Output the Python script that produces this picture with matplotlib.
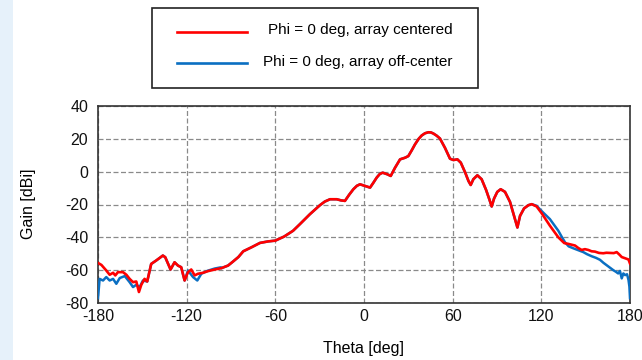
import matplotlib
matplotlib.use('Agg')
import matplotlib.pyplot as plt
from matplotlib.patches import Rectangle
from matplotlib.lines import Line2D

plt.rcParams['font.family'] = ['Liberation Sans', 'DejaVu Sans']
plt.rcParams['axes.unicode_minus'] = False

# red curve: array centered (theta in deg, gain in dBi)
red_theta = [-180, -177.7, -174.4, -172.1, -169.8, -168.3, -166.5, -163.1, -160.8, -158.6,
             -156.3, -154.1, -152.3, -150.7, -148.5, -146.7, -144, -140.6, -136.1, -134.5,
             -130.9, -128.2, -125.9, -123.7, -121.4, -119.1, -116.9, -114.6, -112.4, -109,
             -105.6, -101.1, -96.6, -92, -88.7, -85, -81.7, -76, -70.4, -65,
             -60, -54, -48, -43.3, -36.6, -33, -29.8, -26.5, -23, -18.5,
             -15.5, -12.9, -10, -7.2, -4.8, -2.7, 0.7, 4.1, 6.3, 8.6,
             10.6, 12.6, 15.8, 18.1, 21, 24.4, 27.8, 30, 32.3, 34.5,
             37, 39, 41.3, 43.6, 45.3, 47, 49.2, 51.4, 54.8, 58.2,
             60.5, 63.2, 65.5, 68.5, 70.7, 72.2, 74, 76.7, 79.6, 82.6,
             84.8, 86.4, 88, 90.2, 92.5, 95.4, 98.8, 101.5, 103.8, 105.6,
             108.3, 111.3, 113.5, 116.8, 120.2, 125.8, 131.5, 135.5, 138.3, 140.5,
             142.8, 145, 147.3, 149.5, 151.8, 154, 156.3, 159, 161.9, 164,
             166.5, 169, 171, 172.8, 174.4, 176, 177.7, 179, 180]
red_gain = [-55.6, -56.8, -60.2, -62.8, -61.6, -63.2, -61.2, -61.2, -62.8, -65.3,
            -67.3, -66.9, -73.3, -68.9, -65.3, -66.9, -56.2, -54.1, -51.1, -52.1,
            -59.6, -55.2, -57.2, -58.2, -66.3, -61.2, -59.6, -63.2, -62.2, -61.6,
            -60.6, -59.6, -58.8, -57.2, -54.8, -52, -48.5, -46, -43.4, -42.5,
            -42, -39.5, -36, -31.9, -25.9, -23, -20.4, -18.2, -16.8, -16.8,
            -17.5, -17.8, -14, -10.7, -8.6, -7.7, -8.7, -9.7, -6.8, -3.6,
            -1.5, -0.6, -1.6, -2.6, 2.4, 7.5, 8.5, 9.5, 13, 16.6,
            20, 22, 23.4, 24, 23.9, 23.2, 21.9, 20.2, 14.5, 7.9,
            7.1, 7.5, 5.5, -0.6, -5.7, -8.1, -4.6, -2.2, -4.6, -11.1,
            -16.8, -21.2, -16.4, -12.3, -10.7, -12.3, -18.4, -26.9, -34, -26.9,
            -22.4, -20.4, -19.8, -21.2, -25.3, -32.9, -40, -43.5, -44, -44.5,
            -45, -46.5, -47.7, -47.2, -47.7, -48.5, -48.7, -49.5, -49.7, -49.4,
            -49.5, -49.6, -49, -50.5, -52, -52.5, -53, -53.5, -56]

# blue curve: array off-center, only where it differs from the red one
blue_left_theta = [-180, -178.9, -176.6, -174.4, -172.1, -169.8, -167.6, -165.3, -161.9, -158.6,
                   -156.3, -154.1, -151.8, -149.6, -146.7]
blue_left_gain = [-77, -65.3, -66.3, -64.2, -66.3, -65.3, -68.3, -64.8, -63.6, -67.3,
                  -70.3, -68.9, -70.3, -66.3, -66.9]
blue_mid_theta = [-119.1, -115.7, -112.8, -110.1, -105.6, -101, -97]
blue_mid_gain = [-60.2, -64.2, -66.3, -62.2, -60.3, -59, -58.3]
blue_right_theta = [116.8, 120.2, 125.8, 131.5, 134, 136, 138.5, 141.7, 145, 148.4,
                    151, 154, 157, 159.7, 162, 164.2, 166.5, 168.7, 170.5, 172,
                    173.2, 174.4, 175.5, 176.7, 178, 179, 179.6, 180]
blue_right_gain = [-20.8, -24, -28.9, -36, -40, -43, -45.5, -46.7, -47.8, -49,
                   -50.3, -51.5, -52.5, -53.7, -55.5, -57, -58.5, -60, -61, -62,
                   -60.5, -65, -62, -63, -62.5, -66, -70, -77]

x_ticks = [-180, -120, -60, 0, 60, 120, 180]
y_ticks = [-80, -60, -40, -20, 0, 20, 40]

# build the blue series: its own values where it differs, red values elsewhere
shared = list(zip(red_theta, red_gain))
blue_pts = list(zip(blue_left_theta, blue_left_gain))
blue_pts += [p for p in shared if -146.7 < p[0] < -119.1]
blue_pts += list(zip(blue_mid_theta, blue_mid_gain))
blue_pts += [p for p in shared if -97 < p[0] < 116.8]
blue_pts += list(zip(blue_right_theta, blue_right_gain))
blue_theta = [p[0] for p in blue_pts]
blue_gain = [p[1] for p in blue_pts]

fig = plt.figure(figsize=(6.42, 3.6), dpi=100)

# light blue strip of the slide background on the left
fig.add_artist(Rectangle((0, 0), 13 / 642, 1, transform=fig.transFigure,
                         facecolor='#e6f1fa', edgecolor='none', zorder=0))

ax = fig.add_axes([98 / 642, 1 - 303 / 360, 532 / 642, 197 / 360])

ax.plot(blue_theta, blue_gain, color='#0a6fc2', lw=1.8, zorder=3)
ax.plot(red_theta, red_gain, color='#ff0000', lw=1.9, zorder=4)

ax.set_xlim(-180, 180)
ax.set_ylim(-80, 40)
ax.set_xticks(x_ticks)
ax.set_yticks(y_ticks)
ax.tick_params(length=0, labelsize=11.5, colors='#111111')
ax.tick_params(axis='x', pad=4)
ax.tick_params(axis='y', pad=7)
ax.grid(True, color='#8a8a8a', linestyle=(0, (4, 2)), lw=0.9)
for s in ax.spines.values():
    s.set_color('#333333')
    s.set_linewidth(1.2)

fig.text(364 / 642, 1 - 349 / 360, 'Theta [deg]', ha='center', va='center', fontsize=11.5)
fig.text(29 / 642, 1 - 204 / 360, 'Gain [dBi]', ha='center', va='center',
         rotation=90, fontsize=11.5)

# legend box drawn by hand to match the position
fig.add_artist(Rectangle((152 / 642, 1 - 88 / 360), 326 / 642, 80 / 360,
                         transform=fig.transFigure, facecolor='white',
                         edgecolor='#222222', lw=1.2))
fig.add_artist(Line2D([177 / 642, 247 / 642], [1 - 32 / 360, 1 - 32 / 360],
                      transform=fig.transFigure, color='#ff0000', lw=1.9))
fig.add_artist(Line2D([177 / 642, 247 / 642], [1 - 63 / 360, 1 - 63 / 360],
                      transform=fig.transFigure, color='#0a6fc2', lw=1.9))
fig.text(360 / 642, 1 - 30 / 360, 'Phi = 0 deg, array centered', ha='center',
         va='center', fontsize=11)
fig.text(358 / 642, 1 - 62 / 360, 'Phi = 0 deg, array off-center', ha='center',
         va='center', fontsize=11)

fig.savefig('out.png', dpi=100)
